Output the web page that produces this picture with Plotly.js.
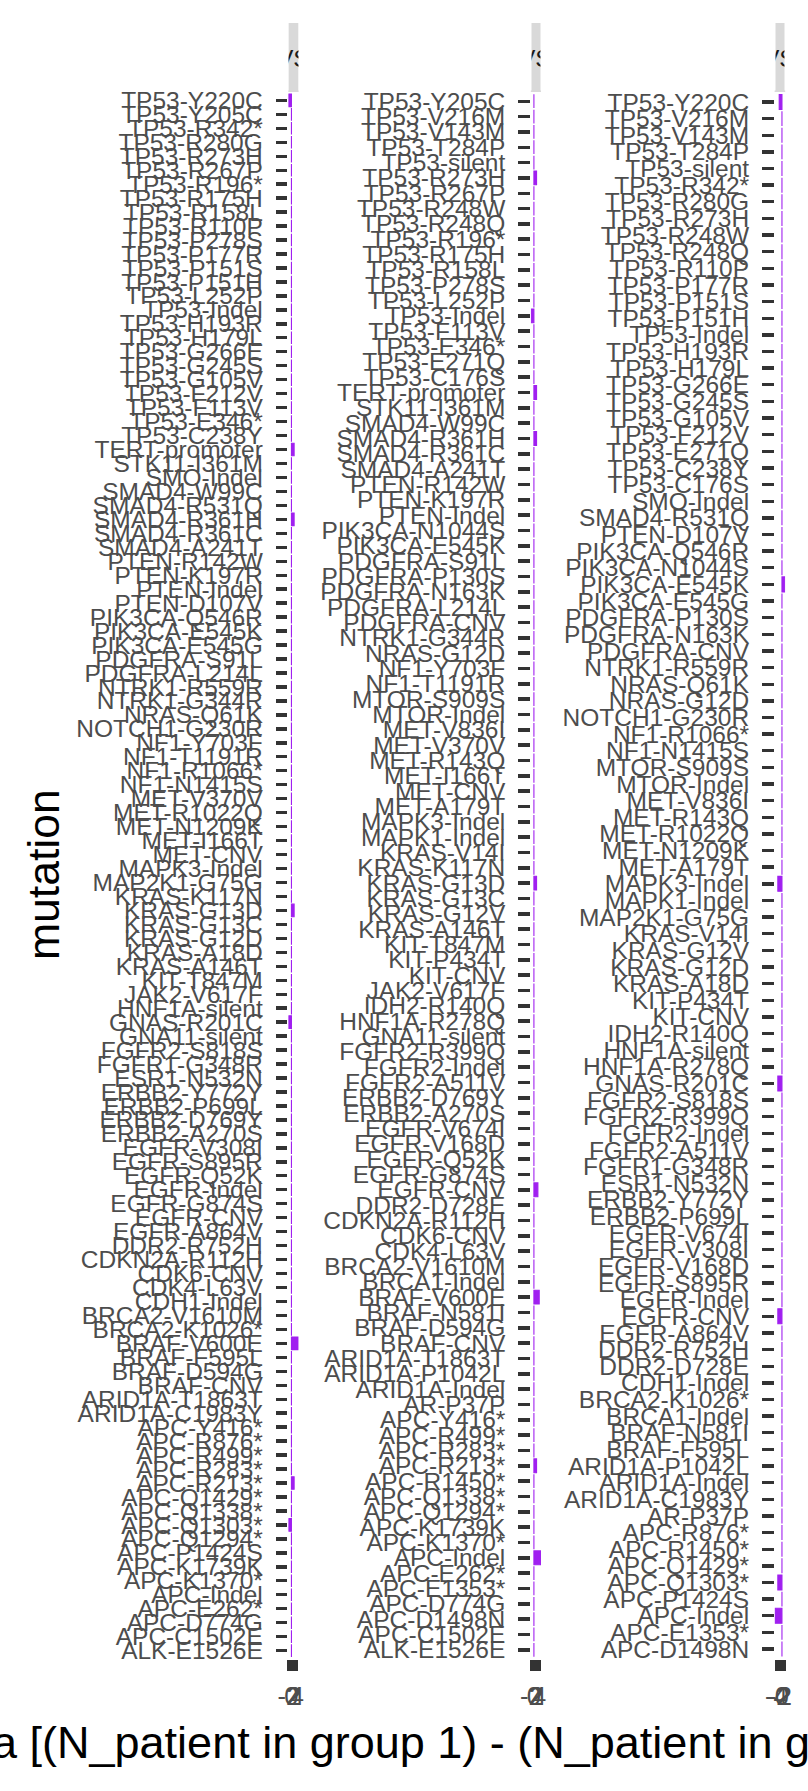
<!DOCTYPE html>
<html><head><meta charset="utf-8">
<script src="https://cdn.plot.ly/plotly-3.0.1.min.js"></script>
<style>html,body{margin:0;padding:0;background:#fff;}#chart{width:808px;height:1791px;}</style>
</head><body><div id="chart"></div>
<script>
// ---------- DATA ----------
const panelTitles = ["VS", "VS", "VS"];

const p1Mutations = ["TP53-Y220C","TP53-Y205C","TP53-R342*","TP53-R280G","TP53-R273H","TP53-R267P","TP53-R196*","TP53-R175H","TP53-R158L","TP53-R110P",
"TP53-P278S","TP53-P177R","TP53-P151S","TP53-P151H","TP53-L252P","TP53-Indel","TP53-H193R","TP53-H179L","TP53-G266E","TP53-G245S",
"TP53-G105V","TP53-F212V","TP53-F113V","TP53-E346*","TP53-C238Y","TERT-promoter","STK11-I361M","SMO-Indel","SMAD4-W99C","SMAD4-R531Q",
"SMAD4-R361H","SMAD4-R361C","SMAD4-A241T","PTEN-R142W","PTEN-K197R","PTEN-Indel","PTEN-D107V","PIK3CA-Q546R","PIK3CA-E545K","PIK3CA-E545G",
"PDGFRA-S91L","PDGFRA-L214L","NTRK1-R559R","NTRK1-G344R","NRAS-Q61K","NOTCH1-G230R","NF1-Y703F","NF1-T1191R","NF1-R1066*","NF1-N1415S",
"MET-V370V","MET-R1022Q","MET-N1209K","MET-I166T","MET-CNV","MAPK3-Indel","MAP2K1-G75G","KRAS-K117N","KRAS-G13D","KRAS-G13C",
"KRAS-G12D","KRAS-A18D","KRAS-A146T","KIT-T847M","JAK2-V617F","HNF1A-silent","GNAS-R201C","GNA11-silent","FGFR2-S818S","FGFR1-G348R",
"ESR1-N532N","ERBB2-Y772Y","ERBB2-P699L","ERBB2-D769Y","ERBB2-A270S","EGFR-V308I","EGFR-S895R","EGFR-Q52K","EGFR-Indel","EGFR-G874S",
"EGFR-CNV","EGFR-A864V","DDR2-R752H","CDKN2A-R112H","CDK6-CNV","CDK4-L63V","CDH1-Indel","BRCA2-V1610M","BRCA2-K1026*","BRAF-V600E",
"BRAF-F595L","BRAF-D594G","BRAF-CNV","ARID1A-T1863T","ARID1A-C1983Y","APC-Y416*","APC-R876*","APC-R499*","APC-R283*","APC-R213*",
"APC-Q1429*","APC-Q1338*","APC-Q1303*","APC-Q1294*","APC-P1424S","APC-K1739K","APC-K1370*","APC-Indel","APC-E262*","APC-D774G",
"APC-C1502E","ALK-E1526E"];
const p1Delta = [-2,0,0,0,0,0,0,0,0,0,
0,0,0,0,0,0,0,0,0,0,
0,0,0,0,0,2,0,0,0,0,
2,0,0,0,0,0,0,0,0,0,
0,0,0,0,0,0,0,0,0,0,
0,0,0,0,0,0,0,0,2,0,
0,0,0,0,0,0,-2,0,0,0,
0,0,0,0,0,0,0,0,0,0,
0,0,0,0,0,0,0,0,0,5,
0,0,0,0,0,0,0,0,0,2,
0,0,-2,0,0,0,0,0,0,0,
0,0];

const p2Mutations = ["TP53-Y205C","TP53-V216M","TP53-V143M","TP53-T284P","TP53-silent","TP53-R273H","TP53-R267P","TP53-R248W","TP53-R248Q","TP53-R196*",
"TP53-R175H","TP53-R158L","TP53-P278S","TP53-L252P","TP53-Indel","TP53-F113V","TP53-E346*","TP53-E271Q","TP53-C176S","TERT-promoter",
"STK11-I361M","SMAD4-W99C","SMAD4-R361H","SMAD4-R361C","SMAD4-A241T","PTEN-R142W","PTEN-K197R","PTEN-Indel","PIK3CA-N1044S","PIK3CA-E545K",
"PDGFRA-S91L","PDGFRA-P130S","PDGFRA-N163K","PDGFRA-L214L","PDGFRA-CNV","NTRK1-G344R","NRAS-G12D","NF1-Y703F","NF1-T1191R","MTOR-S909S",
"MTOR-Indel","MET-V836I","MET-V370V","MET-R143Q","MET-I166T","MET-CNV","MET-A179T","MAPK3-Indel","MAPK1-Indel","KRAS-V14I",
"KRAS-K117N","KRAS-G13D","KRAS-G13C","KRAS-G12V","KRAS-A146T","KIT-T847M","KIT-P434T","KIT-CNV","JAK2-V617F","IDH2-R140Q",
"HNF1A-R278Q","GNA11-silent","FGFR2-R399Q","FGFR2-Indel","FGFR2-A511V","ERBB2-D769Y","ERBB2-A270S","EGFR-V674I","EGFR-V168D","EGFR-Q52K",
"EGFR-G874S","EGFR-CNV","DDR2-D728E","CDKN2A-R112H","CDK6-CNV","CDK4-L63V","BRCA2-V1610M","BRCA1-Indel","BRAF-V600E","BRAF-N581I",
"BRAF-D594G","BRAF-CNV","ARID1A-T1863T","ARID1A-P1042L","ARID1A-Indel","AR-P37P","APC-Y416*","APC-R499*","APC-R283*","APC-R213*",
"APC-R1450*","APC-Q1338*","APC-Q1294*","APC-K1739K","APC-K1370*","APC-Indel","APC-E262*","APC-E1353*","APC-D774G","APC-D1498N",
"APC-C1502E","ALK-E1526E"];
const p2Delta = [0,0,0,0,0,2,0,0,0,0,
0,0,0,0,-2,0,0,0,0,2,
0,0,2,0,0,0,0,0,0,0,
0,0,0,0,0,0,0,0,0,0,
0,0,0,0,0,0,0,0,0,0,
0,2,0,0,0,0,0,0,0,0,
0,0,0,0,0,0,0,0,0,0,
0,3,0,0,0,0,0,0,4,0,
0,0,0,0,0,0,0,0,0,2,
0,0,0,0,0,5,0,0,0,0,
0,0];

const p3Mutations = ["TP53-Y220C","TP53-V216M","TP53-V143M","TP53-T284P","TP53-silent","TP53-R342*","TP53-R280G","TP53-R273H","TP53-R248W","TP53-R248Q",
"TP53-R110P","TP53-P177R","TP53-P151S","TP53-P151H","TP53-Indel","TP53-H193R","TP53-H179L","TP53-G266E","TP53-G245S","TP53-G105V",
"TP53-F212V","TP53-E271Q","TP53-C238Y","TP53-C176S","SMO-Indel","SMAD4-R531Q","PTEN-D107V","PIK3CA-Q546R","PIK3CA-N1044S","PIK3CA-E545K",
"PIK3CA-E545G","PDGFRA-P130S","PDGFRA-N163K","PDGFRA-CNV","NTRK1-R559R","NRAS-Q61K","NRAS-G12D","NOTCH1-G230R","NF1-R1066*","NF1-N1415S",
"MTOR-S909S","MTOR-Indel","MET-V836I","MET-R143Q","MET-R1022Q","MET-N1209K","MET-A179T","MAPK3-Indel","MAPK1-Indel","MAP2K1-G75G",
"KRAS-V14I","KRAS-G12V","KRAS-G12D","KRAS-A18D","KIT-P434T","KIT-CNV","IDH2-R140Q","HNF1A-silent","HNF1A-R278Q","GNAS-R201C",
"FGFR2-S818S","FGFR2-R399Q","FGFR2-Indel","FGFR2-A511V","FGFR1-G348R","ESR1-N532N","ERBB2-Y772Y","ERBB2-P699L","EGFR-V674I","EGFR-V308I",
"EGFR-V168D","EGFR-S895R","EGFR-Indel","EGFR-CNV","EGFR-A864V","DDR2-R752H","DDR2-D728E","CDH1-Indel","BRCA2-K1026*","BRCA1-Indel",
"BRAF-N581I","BRAF-F595L","ARID1A-P1042L","ARID1A-Indel","ARID1A-C1983Y","AR-P37P","APC-R876*","APC-R1450*","APC-Q1429*","APC-Q1303*",
"APC-P1424S","APC-Indel","APC-E1353*","APC-D1498N"];
const p3Delta = [-2,0,0,0,0,0,0,0,0,0,
0,0,0,0,0,0,0,0,0,0,
0,0,0,0,0,0,0,0,0,2,
0,0,0,0,0,0,0,0,0,0,
0,0,0,0,0,0,0,-3,0,0,
0,0,0,0,0,0,0,0,0,-3,
0,0,0,0,0,0,0,0,0,0,
0,0,0,-3,0,0,0,0,0,0,
0,0,0,0,0,0,0,0,0,-3,
0,-5,0,0];

const p1Ticks = [-2, 0, 2, 4];
const p2Ticks = [-2, 0, 2, 4];
const p3Ticks = [-4, -2, 0, 2];

const yTitle = "mutation";
const xTitle = "Delta [(N_patient in group 1) - (N_patient in group 2)]";

// ---------- LAYOUT HELPERS ----------
const W = 808, H = 1791, MT = 92, MB = 132;
const PH = H - MT - MB;
const px = v => v / W;
const py = v => (H - MB - v) / PH;
const FONT = "Liberation Sans, Arial, Helvetica, sans-serif";
const PURPLE = "#A020F0";

const panels = [
  {cats: p1Mutations, vals: p1Delta, ticks: p1Ticks, dom: [288.3, 298.6]},
  {cats: p2Mutations, vals: p2Delta, ticks: p2Ticks, dom: [530.8, 541.0]},
  {cats: p3Mutations, vals: p3Delta, ticks: p3Ticks, dom: [774.6, 785.2]}
];

const traces = [];
const layout = {
  width: W, height: H,
  margin: {l: 0, r: 0, t: MT, b: MB},
  paper_bgcolor: "#fff", plot_bgcolor: "#fff",
  showlegend: false, bargap: 0.1,
  font: {family: FONT},
  shapes: [], annotations: []
};

panels.forEach((p, i) => {
  const sfx = i === 0 ? "" : String(i + 1);
  traces.push({
    type: "bar", orientation: "h",
    x: p.vals, y: p.cats,
    xaxis: "x" + sfx, yaxis: "y" + sfx,
    marker: {color: PURPLE, line: {color: PURPLE, width: 1.1}},
    hoverinfo: "x+y"
  });
  const mn = Math.min(0, ...p.vals), mx = Math.max(0, ...p.vals);
  const pad = (mx - mn) * 0.05;
  layout["xaxis" + sfx] = {
    domain: [px(p.dom[0]), px(p.dom[1])], anchor: "y" + sfx,
    range: [mn - pad, mx + pad], tickmode: "array", tickvals: p.ticks,
    ticktext: p.ticks.map(String), tickangle: 0,
    ticks: "outside", ticklen: 11, tickwidth: 3.4, tickcolor: "#333333",
    showgrid: false, zeroline: false, showline: false,
    tickfont: {family: FONT, size: 25.5, color: "#4D4D4D"},
    ticklabelstandoff: 3
  };
  const n = p.cats.length;
  layout["yaxis" + sfx] = {
    domain: [0, 1], anchor: "x" + sfx, type: "category",
    categoryorder: "array", categoryarray: p.cats,
    range: [n - 0.4, -0.6],
    tickmode: "array", tickvals: p.cats, ticktext: p.cats,
    ticks: "outside", ticklen: 11.6, tickwidth: 3.4, tickcolor: "#333333",
    showgrid: false, zeroline: false, showline: false,
    tickfont: {family: FONT, size: 24.5, color: "#4D4D4D"},
    ticklabelstandoff: 8
  };
  // strip background
  layout.shapes.push({type: "rect", xref: "paper", yref: "paper",
    x0: px(p.dom[0]), x1: px(p.dom[1]), y0: py(92), y1: py(23),
    fillcolor: "#D9D9D9", line: {width: 0}, layer: "below"});
  // strip text
  layout.annotations.push({xref: "paper", yref: "paper",
    x: px((p.dom[0] + p.dom[1]) / 2), y: py(58), xanchor: "center", yanchor: "middle",
    text: panelTitles[i], showarrow: false,
    font: {family: FONT, size: 24.5, color: "#1A1A1A"}});
});

// white covers emulate clipping of strip text to strip box
panels.forEach(p => {
  [[p.dom[0] - 26, p.dom[0]], [p.dom[1], p.dom[1] + 26]].forEach(([a, b]) => {
    layout.annotations.push({xref: "paper", yref: "paper",
      x: px((a + b) / 2), y: py(56), xanchor: "center", yanchor: "middle",
      text: " ", showarrow: false, width: b - a, height: 68, borderpad: 0,
      bgcolor: "#FFFFFF"});
  });
});

// axis titles
layout.annotations.push({xref: "paper", yref: "paper", x: px(43), y: py(875),
  xanchor: "center", yanchor: "middle", textangle: -90, text: yTitle, showarrow: false,
  font: {family: FONT, size: 44.5, color: "#000"}});
layout.annotations.push({xref: "paper", yref: "paper", x: px(-90), y: py(1742),
  xanchor: "left", yanchor: "middle", text: xTitle, showarrow: false,
  font: {family: FONT, size: 45, color: "#000"}});

Plotly.newPlot("chart", traces, layout, {staticPlot: true, displayModeBar: false});
</script>
</body></html>
